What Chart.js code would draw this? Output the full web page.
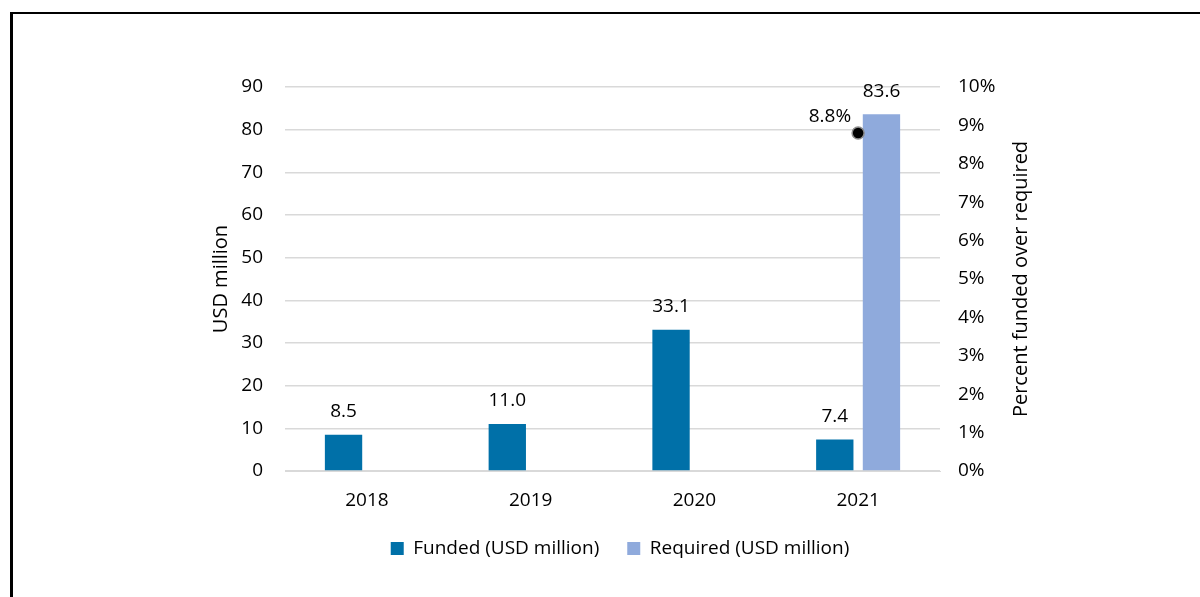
<!DOCTYPE html>
<html>
<head>
<meta charset="utf-8">
<script src="https://cdn.jsdelivr.net/npm/chart.js@4/dist/chart.umd.min.js"></script>
<style>
  html, body { margin: 0; padding: 0; background: #fff; }
  #wrap { position: relative; width: 1200px; height: 597px; overflow: hidden; }
  #frame { position: absolute; left: 10px; top: 12px; width: 1300px; height: 700px;
           border-left: 3px solid #000; border-top: 2px solid #000; }
  #chart { position: absolute; left: 0; top: 0; }
</style>
</head>
<body>
<div id="wrap">
  <div id="frame"></div>
  <canvas id="chart" width="1200" height="597"></canvas>
</div>
<script>
const years = ['2018', '2019', '2020', '2021'];
const funded = [8.5, 11.0, 33.1, 7.4];
const required = [null, null, null, 83.6];
const percentFunded = [null, null, null, 8.8];

const FONT = '"Open Sans", "Noto Sans", sans-serif';
const TEXT = '#000';
const GRID = '#d9d9d9';

// value labels above the bars and next to the percent marker
const valueLabels = {
  id: 'valueLabels',
  afterDatasetsDraw(chart) {
    const ctx = chart.ctx;
    ctx.save();
    ctx.fillStyle = TEXT;
    ctx.font = '19px ' + FONT;
    ctx.textBaseline = 'middle';
    [0, 1].forEach(di => {
      const meta = chart.getDatasetMeta(di);
      const data = chart.data.datasets[di].data;
      meta.data.forEach((bar, i) => {
        if (data[i] == null) return;
        ctx.textAlign = 'center';
        ctx.fillText(data[i].toFixed(1), bar.x, bar.y - 23);
      });
    });
    const pMeta = chart.getDatasetMeta(2);
    pMeta.data.forEach((pt, i) => {
      const v = chart.data.datasets[2].data[i];
      if (v == null) return;
      ctx.textAlign = 'right';
      ctx.fillText(v.toFixed(1) + '%', pt.x - 7, pt.y - 16);
    });
    ctx.restore();
  }
};

// right axis title reads bottom-to-top
const rightTitle = {
  id: 'rightTitle',
  afterDraw(chart) {
    const area = chart.chartArea;
    const ctx = chart.ctx;
    ctx.save();
    ctx.translate(1021, (area.top + area.bottom) / 2);
    ctx.rotate(-Math.PI / 2);
    ctx.font = '20px ' + FONT;
    ctx.fillStyle = TEXT;
    ctx.textAlign = 'center';
    ctx.textBaseline = 'middle';
    ctx.fillText('Percent funded over required', 0, 0);
    ctx.restore();
  }
};

new Chart(document.getElementById('chart'), {
  type: 'bar',
  data: {
    labels: years,
    datasets: [
      {
        label: 'Funded (USD million)',
        data: funded,
        backgroundColor: '#0070a8',
        yAxisID: 'y',
        barPercentage: 0.8,
        categoryPercentage: 0.57,
        order: 2
      },
      {
        label: 'Required (USD million)',
        data: required,
        backgroundColor: '#8faadc',
        yAxisID: 'y',
        barPercentage: 0.8,
        categoryPercentage: 0.57,
        order: 2
      },
      {
        type: 'line',
        label: 'Percent funded',
        data: percentFunded,
        yAxisID: 'y1',
        showLine: false,
        pointRadius: 6,
        pointBackgroundColor: '#000',
        pointBorderColor: '#8c8c8c',
        pointBorderWidth: 1.5,
        order: 1
      }
    ]
  },
  options: {
    responsive: false,
    animation: false,
    layout: { padding: { left: 200, right: 160, top: 87, bottom: 29 } },
    plugins: {
      legend: {
        position: 'bottom',
        labels: {
          filter: item => item.datasetIndex < 2,
          boxWidth: 13,
          boxHeight: 13,
          padding: 28,
          color: TEXT,
          font: { family: FONT, size: 19 }
        }
      },
      tooltip: { enabled: false }
    },
    scales: {
      x: {
        grid: { display: false },
        border: { color: GRID },
        ticks: { color: TEXT, padding: 10, font: { family: FONT, size: 19 } },
        afterFit(scale) { scale.height = 40; }
      },
      y: {
        position: 'left',
        min: 0,
        max: 90,
        ticks: { stepSize: 10, color: TEXT, padding: 22, font: { family: FONT, size: 19 } },
        grid: { color: GRID, lineWidth: 1.5, drawTicks: false },
        border: { display: false },
        title: { display: true, text: 'USD million', color: TEXT, font: { family: FONT, size: 20 }, padding: { top: 9, bottom: 0 } },
        afterFit(scale) { scale.width = 85; }
      },
      y1: {
        position: 'right',
        min: 0,
        max: 10,
        ticks: { stepSize: 1, color: TEXT, padding: 18, callback: v => v + '%', font: { family: FONT, size: 19 } },
        grid: { drawOnChartArea: false, drawTicks: false },
        border: { display: false },
        afterFit(scale) { scale.width = 100; }
      }
    }
  },
  plugins: [valueLabels, rightTitle]
});
</script>
</body>
</html>
